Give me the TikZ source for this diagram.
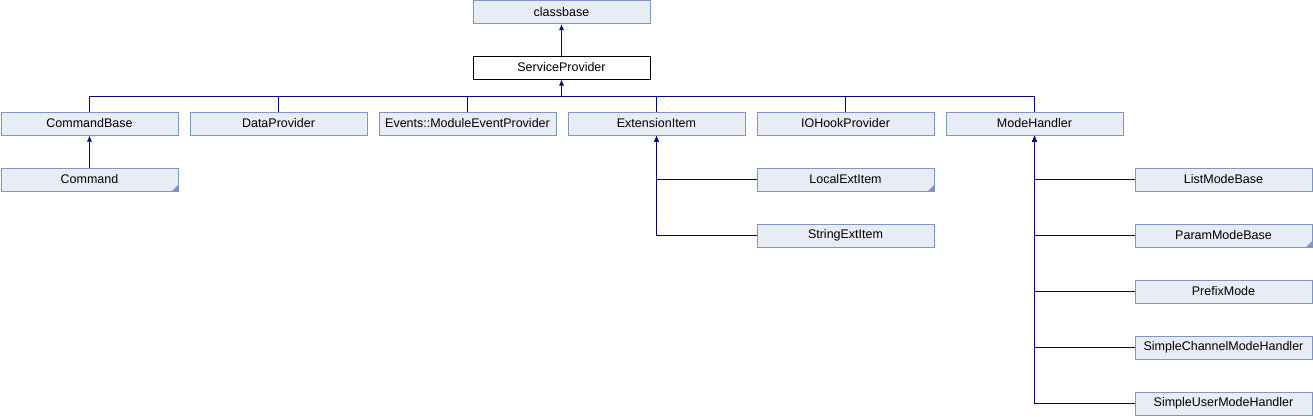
\documentclass[tikz,border=0pt]{standalone}
\usepackage{fontspec}
\setmainfont{Liberation Sans}
\usetikzlibrary{arrows.meta}
\definecolor{boxfill}{HTML}{E8ECF5}
\definecolor{boxline}{HTML}{7D95C9}
\definecolor{edgecol}{HTML}{00008B}
\begin{document}
\begin{tikzpicture}[x=1pt,y=-1pt,
  cls/.style={draw=boxline,fill=boxfill,line width=1pt,minimum width=177pt,minimum height=23pt,inner sep=0pt,font=\fontsize{12.5}{14}\selectfont},
  cur/.style={draw=black,fill=white,line width=1pt,minimum width=177pt,minimum height=23pt,inner sep=0pt,font=\fontsize{12.5}{14}\selectfont},
  edge/.style={draw=edgecol,line width=1pt},
  inh/.style={edge,-{Latex[length=6pt,width=5pt]}},
  corner/.style={fill=boxline}]
\useasboundingbox (0,0) rectangle (1313,416);
% nodes
\node[cls] (classbase) at (561.5,12) {classbase};
\node[cur] (sp) at (561.5,67.5) {ServiceProvider};
\node[cls] (cb) at (89.5,123.5) {CommandBase};
\node[cls] (dp) at (278.5,123.5) {DataProvider};
\node[cls] (ev) at (467.5,123.5) {Events::ModuleEventProvider};
\node[cls] (ei) at (656.5,123.5) {ExtensionItem};
\node[cls] (io) at (845.5,123.5) {IOHookProvider};
\node[cls] (mh) at (1034.5,123.5) {ModeHandler};
\node[cls] (cmd) at (89.5,179.5) {Command};
\node[cls] (lei) at (845.5,179.5) {LocalExtItem};
\node[cls] (sei) at (845.5,235.5) {StringExtItem};
\node[cls] (lmb) at (1223.5,179.5) {ListModeBase};
\node[cls] (pmb) at (1223.5,235.5) {ParamModeBase};
\node[cls] (pm) at (1223.5,291.5) {PrefixMode};
\node[cls] (scm) at (1223.5,347.5) {SimpleChannelModeHandler};
\node[cls] (sum) at (1223.5,403.5) {SimpleUserModeHandler};
% corner marks
\foreach \n in {cmd,lei,pmb}{
  \fill[corner] ([xshift=-0.5pt,yshift=0.5pt]\n.south east) -- ++(-6,0) -- ++(6,-6) -- cycle;
}
% edges
\draw[inh] (sp.north) -- (classbase.south);
\coordinate (bus) at (561.5,96.5);
\draw[inh] (bus) -- (sp.south);
\foreach \n in {cb,dp,ev,ei,io,mh}{
  \draw[edge] (\n.north) |- (bus);
}
\draw[inh] (cmd.north) -- (cb.south);
\draw[inh] (lei.west) -| (ei.south);
\draw[inh] (sei.west) -| (ei.south);
\foreach \n in {lmb,pmb,pm,scm,sum}{
  \draw[inh] (\n.west) -| (mh.south);
}
\end{tikzpicture}
\end{document}
